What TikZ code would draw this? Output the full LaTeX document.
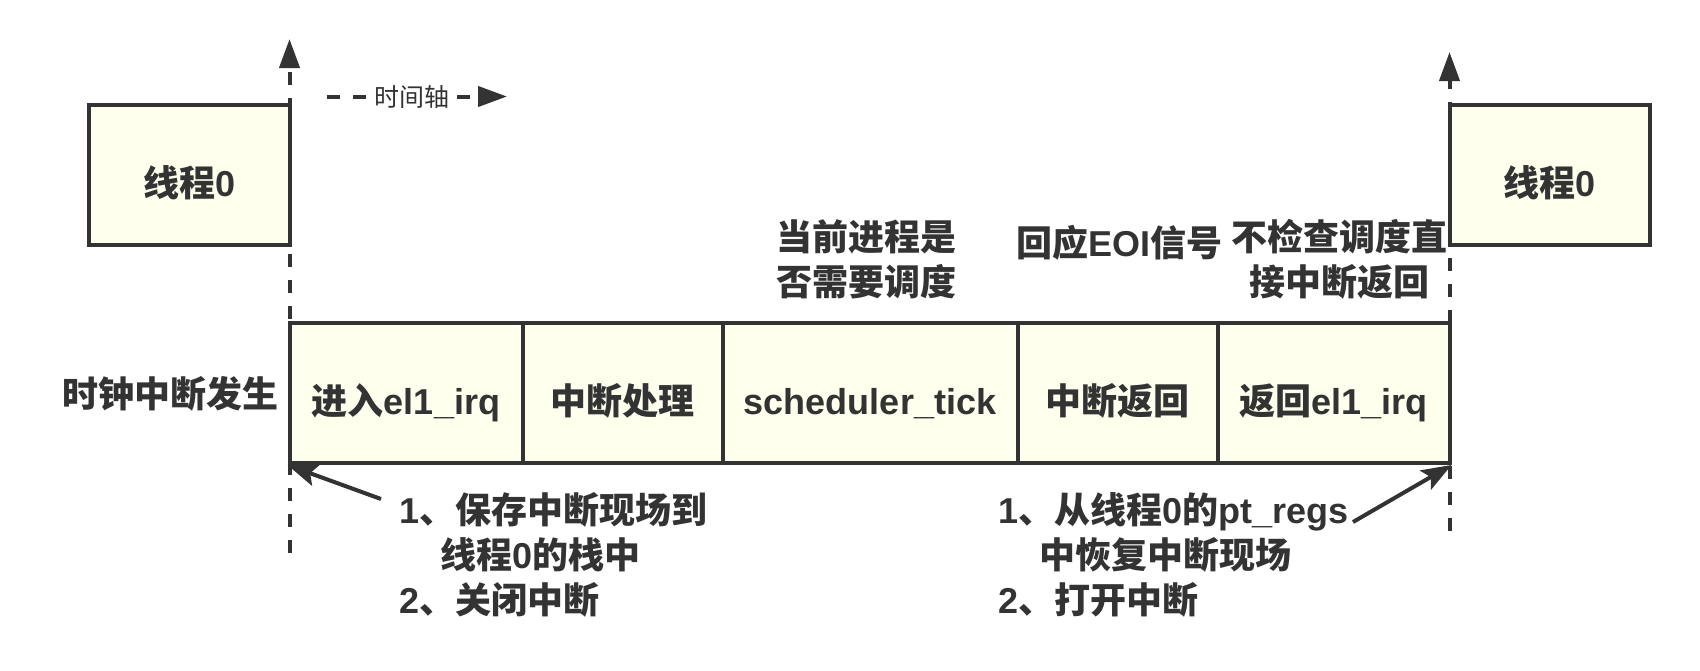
\documentclass[tikz,border=0pt]{standalone}
\usepackage{fontspec}
\setmainfont{Liberation Sans}
\newfontfamily\cjk{Noto Sans CJK SC}
\usetikzlibrary{arrows.meta}
\definecolor{ink}{HTML}{333333}
\definecolor{pale}{HTML}{FFFFEE}
\newcommand\zh[1]{{\cjk #1}}
\begin{document}
\begin{tikzpicture}[x=0.5pt,y=-0.5pt,
  every node/.style={text=ink},
  box/.style={draw=ink, fill=pale, line width=2pt, minimum height=70pt, inner sep=0pt,
    text height=21pt, text depth=0pt,
    font=\bfseries\fontsize{18}{22}\selectfont},
  lbl/.style={font=\bfseries\fontsize{18}{22.5}\selectfont, inner sep=0pt},
  guide/.style={draw=ink, line width=2pt, dash pattern=on 6.5pt off 6.5pt,
    -{Triangle[length=14.5pt,width=10pt]}},
  pointer/.style={draw=ink, line width=2pt, -{Stealth[length=15pt,width=11pt,inset=3pt]}}
]
\useasboundingbox (0,0) rectangle (1700,670);

% guide lines
\coordinate (lb) at (289.5,553);
\coordinate (lt) at (289.5,39);
\coordinate (rb) at (1449.5,531);
\coordinate (rt) at (1449.5,52);
\draw[guide] (lb) -- (lt);
\draw[guide] (rb) -- (rt);

% time axis
\coordinate (ta) at (327,96.5);
\coordinate (tb) at (507,96.5);
\draw[guide] (ta) -- node[pos=0.472, fill=white, inner xsep=3pt, inner ysep=1pt,
  font=\fontsize{12.5}{14}\selectfont] {\zh{时间轴}} (tb);

% thread boxes
\node[box, minimum width=100.25pt] (t0) at (189.25,175) {\zh{线程}0};
\node[box, minimum width=100.25pt] (t1) at (1549.75,175) {\zh{线程}0};

% main row
\node[box, minimum width=116.5pt] (c1) at (406,393) {\zh{进入}el1\_irq};
\node[box, minimum width=100pt]   (c2) at (622.5,393) {\zh{中断处理}};
\node[box, minimum width=147.5pt] (c3) at (870,393) {scheduler\_tick};
\node[box, minimum width=100pt]   (c4) at (1117.5,393) {\zh{中断返回}};
\node[box, minimum width=116pt]   (c5) at (1333.5,393) {\zh{返回}el1\_irq};

\node[lbl] (start) at (170,394) {\zh{时钟中断发生}};

% top labels
\node[lbl, align=center] (q1) at (866,259) {\zh{当前进程是}\\\zh{否需要调度}};
\node[lbl] (q2) at (1119,243) {\zh{回应}EOI\zh{信号}};
\node[lbl, align=center] (q3) at (1339,259) {\zh{不检查调度直}\\\zh{接中断返回}};

% bottom labels
\node[lbl, align=left, anchor=west] (b1) at (399,555)
  {1\zh{、保存中断现场到}\\\hspace*{20.5pt}\zh{线程}0\zh{的栈中}\\2\zh{、关闭中断}};
\node[lbl, align=left, anchor=west] (b2) at (998,555)
  {1\zh{、从线程}0\zh{的}pt\_regs\\\hspace*{20.5pt}\zh{中恢复中断现场}\\2\zh{、打开中断}};

\coordinate (a1) at (381,499);
\coordinate (a2) at (1353,522);
\draw[pointer] (a1) -- (c1.south west);
\draw[pointer] (a2) -- (c5.south east);
\end{tikzpicture}
\end{document}
